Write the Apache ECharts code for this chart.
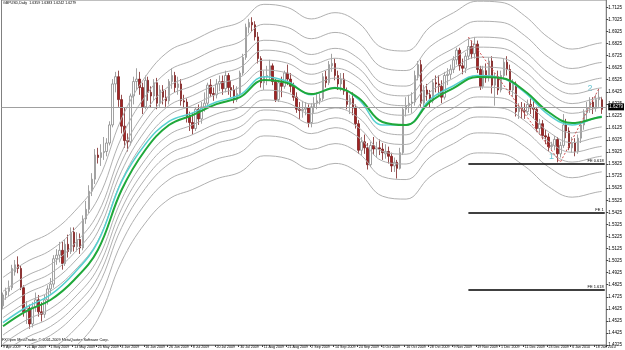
<!DOCTYPE html>
<html>
<head>
<meta charset="utf-8">
<script src="https://cdn.jsdelivr.net/npm/echarts@6/dist/echarts.min.js"></script>
<style>
  html, body { margin: 0; padding: 0; background: #fff; }
  #chart { width: 625px; height: 350px; }
</style>
</head>
<body>
<div id="chart"></div>
<script>
// time labels, one every 8 bars
const tickLabels = ['9 Apr 2009', '21 Apr 2009', '1 May 2009', '13 May 2009', '25 May 2009', '4 Jun 2009',
  '16 Jun 2009', '26 Jun 2009', '8 Jul 2009', '20 Jul 2009', '30 Jul 2009', '11 Aug 2009', '21 Aug 2009',
  '2 Sep 2009', '14 Sep 2009', '24 Sep 2009', '6 Oct 2009', '16 Oct 2009', '28 Oct 2009', '9 Nov 2009',
  '19 Nov 2009', '1 Dec 2009', '11 Dec 2009', '23 Dec 2009', '6 Jan 2010', '18 Jan 2010'];

const priceTicks = [1.4325, 1.4425, 1.4525, 1.4625, 1.4725, 1.4825, 1.4925, 1.5025, 1.5125, 1.5225,
  1.5325, 1.5425, 1.5525, 1.5625, 1.5725, 1.5825, 1.5925, 1.6025, 1.6125, 1.6225, 1.6325, 1.6425,
  1.6525, 1.6625, 1.6725, 1.6825, 1.6925, 1.7025, 1.7125];

// daily bars: [open, close, low, high]
const ohlc = [
  // Apr
  [1.4650, 1.4740, 1.4620, 1.4760], [1.4740, 1.4770, 1.4700, 1.4800], [1.4770, 1.4800, 1.4730, 1.4860],
  [1.4800, 1.4960, 1.4780, 1.4990], [1.4930, 1.4990, 1.4900, 1.5030], [1.4990, 1.4960, 1.4920, 1.5060],
  [1.4960, 1.4800, 1.4780, 1.4980], [1.4800, 1.4600, 1.4560, 1.4820], [1.4600, 1.4630, 1.4500, 1.4690],
  [1.4630, 1.4500, 1.4460, 1.4660], [1.4500, 1.4640, 1.4470, 1.4680], [1.4640, 1.4700, 1.4600, 1.4760],
  [1.4700, 1.4600, 1.4560, 1.4740], [1.4600, 1.4580, 1.4520, 1.4680], [1.4580, 1.4700, 1.4550, 1.4740],
  [1.4700, 1.4790, 1.4660, 1.4820],
  // May
  [1.4790, 1.4830, 1.4750, 1.4880], [1.4830, 1.5040, 1.4800, 1.5070], [1.5040, 1.5070, 1.4990, 1.5120],
  [1.5070, 1.5110, 1.5010, 1.5180], [1.5110, 1.5000, 1.4950, 1.5180], [1.5000, 1.5160, 1.4980, 1.5200],
  [1.5160, 1.5100, 1.5050, 1.5240], [1.5100, 1.5260, 1.5080, 1.5300], [1.5260, 1.5140, 1.5100, 1.5300],
  [1.5140, 1.5200, 1.5100, 1.5260], [1.5200, 1.5130, 1.5080, 1.5250], [1.5130, 1.5370, 1.5110, 1.5400],
  [1.5370, 1.5450, 1.5330, 1.5520], [1.5450, 1.5600, 1.5420, 1.5650], [1.5600, 1.5700, 1.5560, 1.5750],
  [1.5700, 1.5900, 1.5660, 1.5950], [1.5900, 1.5880, 1.5830, 1.5960], [1.5880, 1.5920, 1.5810, 1.5990],
  [1.5920, 1.5930, 1.5860, 1.6050], [1.5930, 1.6000, 1.5890, 1.6040], [1.6000, 1.6150, 1.5980, 1.6180],
  // Jun
  [1.6150, 1.6490, 1.6130, 1.6530], [1.6490, 1.6550, 1.6420, 1.6590], [1.6550, 1.6360, 1.6300, 1.6600],
  [1.6360, 1.6140, 1.6080, 1.6400], [1.6140, 1.6020, 1.5960, 1.6290], [1.6020, 1.6010, 1.5930, 1.6080],
  [1.6010, 1.6390, 1.5980, 1.6410], [1.6390, 1.6510, 1.6320, 1.6550], [1.6510, 1.6530, 1.6440, 1.6620],
  [1.6530, 1.6460, 1.6400, 1.6590], [1.6460, 1.6300, 1.6240, 1.6500], [1.6300, 1.6520, 1.6280, 1.6560],
  [1.6520, 1.6420, 1.6350, 1.6550], [1.6420, 1.6390, 1.6290, 1.6470], [1.6390, 1.6500, 1.6350, 1.6530],
  [1.6500, 1.6330, 1.6280, 1.6540], [1.6330, 1.6440, 1.6300, 1.6480], [1.6440, 1.6380, 1.6320, 1.6480],
  [1.6380, 1.6350, 1.6300, 1.6440], [1.6350, 1.6510, 1.6320, 1.6530], [1.6510, 1.6560, 1.6450, 1.6620],
  [1.6560, 1.6460, 1.6420, 1.6590],
  // Jul
  [1.6460, 1.6490, 1.6400, 1.6550], [1.6490, 1.6350, 1.6310, 1.6530], [1.6350, 1.6340, 1.6290, 1.6400],
  [1.6340, 1.6220, 1.6170, 1.6370], [1.6220, 1.6170, 1.6100, 1.6260], [1.6170, 1.6120, 1.6070, 1.6250],
  [1.6120, 1.6280, 1.6100, 1.6300], [1.6280, 1.6200, 1.6150, 1.6320], [1.6200, 1.6300, 1.6160, 1.6340],
  [1.6300, 1.6330, 1.6260, 1.6420], [1.6330, 1.6480, 1.6300, 1.6500], [1.6480, 1.6410, 1.6380, 1.6530],
  [1.6410, 1.6400, 1.6350, 1.6460], [1.6400, 1.6490, 1.6370, 1.6530], [1.6490, 1.6510, 1.6430, 1.6560],
  [1.6510, 1.6450, 1.6400, 1.6560], [1.6450, 1.6560, 1.6420, 1.6600], [1.6560, 1.6460, 1.6400, 1.6580],
  [1.6460, 1.6440, 1.6380, 1.6520], [1.6440, 1.6360, 1.6330, 1.6480], [1.6360, 1.6410, 1.6340, 1.6470],
  [1.6410, 1.6580, 1.6390, 1.6600], [1.6580, 1.6710, 1.6560, 1.6740],
  // Aug
  [1.6710, 1.6960, 1.6690, 1.6990], [1.6960, 1.7000, 1.6910, 1.7030], [1.7000, 1.6980, 1.6920, 1.7043],
  [1.6980, 1.6880, 1.6850, 1.7010], [1.6880, 1.6700, 1.6660, 1.6920], [1.6700, 1.6500, 1.6460, 1.6720],
  [1.6500, 1.6550, 1.6440, 1.6600], [1.6550, 1.6560, 1.6480, 1.6640], [1.6560, 1.6640, 1.6520, 1.6690],
  [1.6640, 1.6510, 1.6480, 1.6660], [1.6510, 1.6360, 1.6340, 1.6530], [1.6360, 1.6500, 1.6340, 1.6520],
  [1.6500, 1.6470, 1.6380, 1.6550], [1.6470, 1.6580, 1.6450, 1.6600], [1.6580, 1.6530, 1.6480, 1.6650],
  [1.6530, 1.6470, 1.6420, 1.6580], [1.6470, 1.6380, 1.6350, 1.6500], [1.6380, 1.6280, 1.6250, 1.6420],
  [1.6280, 1.6270, 1.6200, 1.6340], [1.6270, 1.6280, 1.6210, 1.6350], [1.6280, 1.6290, 1.6230, 1.6340],
  // Sep
  [1.6290, 1.6170, 1.6130, 1.6320], [1.6170, 1.6300, 1.6130, 1.6330], [1.6300, 1.6330, 1.6250, 1.6380],
  [1.6330, 1.6350, 1.6280, 1.6420], [1.6350, 1.6370, 1.6320, 1.6410], [1.6370, 1.6550, 1.6350, 1.6580],
  [1.6550, 1.6500, 1.6460, 1.6600], [1.6500, 1.6650, 1.6480, 1.6680], [1.6640, 1.6660, 1.6590, 1.6740],
  [1.6660, 1.6560, 1.6520, 1.6700], [1.6560, 1.6490, 1.6440, 1.6600], [1.6490, 1.6530, 1.6430, 1.6580],
  [1.6530, 1.6430, 1.6400, 1.6580], [1.6430, 1.6320, 1.6280, 1.6460], [1.6320, 1.6370, 1.6240, 1.6400],
  [1.6370, 1.6290, 1.6230, 1.6420], [1.6290, 1.6160, 1.6120, 1.6320], [1.6160, 1.5940, 1.5910, 1.6190],
  [1.5940, 1.6010, 1.5900, 1.6050], [1.6010, 1.5960, 1.5910, 1.6070], [1.5960, 1.5820, 1.5780, 1.6000],
  [1.5820, 1.5980, 1.5800, 1.6010],
  // Oct
  [1.5980, 1.5950, 1.5900, 1.6050], [1.5950, 1.5960, 1.5880, 1.6010], [1.5960, 1.5950, 1.5900, 1.6030],
  [1.5950, 1.5920, 1.5860, 1.6000], [1.5910, 1.5930, 1.5870, 1.5990], [1.5930, 1.5890, 1.5830, 1.5970],
  [1.5890, 1.5810, 1.5760, 1.5920], [1.5810, 1.5840, 1.5760, 1.5880], [1.5840, 1.5790, 1.5705, 1.5860],
  [1.5790, 1.5920, 1.5780, 1.5960], [1.5920, 1.6280, 1.5900, 1.6300], [1.6280, 1.6310, 1.6220, 1.6380],
  [1.6310, 1.6330, 1.6250, 1.6400], [1.6330, 1.6340, 1.6250, 1.6420], [1.6340, 1.6560, 1.6310, 1.6600],
  [1.6560, 1.6650, 1.6520, 1.6680], [1.6650, 1.6330, 1.6300, 1.6690], [1.6330, 1.6440, 1.6300, 1.6480],
  [1.6440, 1.6400, 1.6350, 1.6490], [1.6400, 1.6350, 1.6290, 1.6440], [1.6350, 1.6500, 1.6330, 1.6530],
  [1.6500, 1.6490, 1.6420, 1.6560],
  // Nov
  [1.6490, 1.6470, 1.6400, 1.6560], [1.6470, 1.6380, 1.6330, 1.6520], [1.6380, 1.6560, 1.6360, 1.6590],
  [1.6560, 1.6570, 1.6480, 1.6620], [1.6570, 1.6610, 1.6530, 1.6650], [1.6610, 1.6690, 1.6580, 1.6720],
  [1.6690, 1.6770, 1.6650, 1.6790], [1.6770, 1.6640, 1.6600, 1.6790], [1.6640, 1.6620, 1.6570, 1.6700],
  [1.6620, 1.6720, 1.6580, 1.6750], [1.6720, 1.6800, 1.6690, 1.6870], [1.6800, 1.6740, 1.6700, 1.6850],
  [1.6740, 1.6820, 1.6700, 1.6880], [1.6820, 1.6610, 1.6580, 1.6850], [1.6610, 1.6470, 1.6440, 1.6640],
  [1.6470, 1.6600, 1.6450, 1.6640], [1.6600, 1.6540, 1.6500, 1.6660], [1.6540, 1.6680, 1.6510, 1.6710],
  [1.6680, 1.6480, 1.6410, 1.6720], [1.6480, 1.6550, 1.6310, 1.6580], [1.6550, 1.6440, 1.6400, 1.6600],
  // Dec
  [1.6440, 1.6560, 1.6420, 1.6600], [1.6560, 1.6670, 1.6530, 1.6700], [1.6670, 1.6610, 1.6560, 1.6720],
  [1.6610, 1.6440, 1.6400, 1.6650], [1.6440, 1.6490, 1.6380, 1.6530], [1.6490, 1.6260, 1.6220, 1.6510],
  [1.6260, 1.6290, 1.6200, 1.6330], [1.6290, 1.6270, 1.6200, 1.6340], [1.6270, 1.6260, 1.6200, 1.6330],
  [1.6260, 1.6320, 1.6230, 1.6360], [1.6320, 1.6290, 1.6240, 1.6370], [1.6290, 1.6280, 1.6200, 1.6350],
  [1.6280, 1.6120, 1.6090, 1.6300], [1.6120, 1.6160, 1.6070, 1.6200], [1.6160, 1.6060, 1.6030, 1.6190],
  [1.6060, 1.6050, 1.5990, 1.6110], [1.6050, 1.5970, 1.5930, 1.6080], [1.5970, 1.5980, 1.5940, 1.6010],
  [1.5980, 1.6030, 1.5940, 1.6060], [1.6030, 1.5910, 1.5840, 1.6050], [1.5910, 1.5980, 1.5880, 1.6010],
  [1.5980, 1.6150, 1.5960, 1.6240],
  // Jan
  [1.6150, 1.6100, 1.6040, 1.6200], [1.6100, 1.5960, 1.5940, 1.6130], [1.5960, 1.6000, 1.5920, 1.6050],
  [1.6000, 1.5930, 1.5890, 1.6040], [1.5930, 1.6040, 1.5910, 1.6070], [1.6040, 1.6150, 1.6000, 1.6170],
  [1.6150, 1.6250, 1.6110, 1.6280], [1.6250, 1.6290, 1.6190, 1.6340], [1.6290, 1.6340, 1.6250, 1.6380],
  [1.6340, 1.6290, 1.6240, 1.6380], [1.6290, 1.6360, 1.6260, 1.6400], [1.6360, 1.6380, 1.6300, 1.6450],
  [1.6359, 1.6279, 1.6242, 1.6383]
];

// indicator lines, read every 8 bars
const maIdx = [0, 8, 16, 24, 32, 40, 48, 56, 64, 72, 80, 88, 96, 104, 112, 120, 128, 136, 144, 152,
  160, 168, 176, 184, 192, 200, 202];
const maSlow = [1.4480, 1.4607, 1.4698, 1.4864, 1.5113, 1.5610, 1.5942, 1.6149, 1.6232, 1.6323, 1.6381,
  1.6522, 1.6497, 1.6406, 1.6456, 1.6373, 1.6174, 1.6149, 1.6340, 1.6456, 1.6547, 1.6539, 1.6431,
  1.6257, 1.6165, 1.6207, 1.6215];
const maFast = [1.4510, 1.4640, 1.4740, 1.4920, 1.5180, 1.5680, 1.5990, 1.6180, 1.6250, 1.6340, 1.6400,
  1.6550, 1.6510, 1.6400, 1.6460, 1.6360, 1.6150, 1.6150, 1.6360, 1.6475, 1.6560, 1.6540, 1.6420,
  1.6235, 1.6150, 1.6210, 1.6222];

// envelope bands, outermost upper first
const envUp6 = [1.5030, 1.5162, 1.5257, 1.5429, 1.5687, 1.6203, 1.6548, 1.6763, 1.6849, 1.6943, 1.7003,
  1.7150, 1.7124, 1.7029, 1.7081, 1.6995, 1.6789, 1.6763, 1.6961, 1.7081, 1.7176, 1.7167, 1.7055,
  1.6875, 1.6779, 1.6823, 1.6831];
const envUp5 = [1.4885, 1.5016, 1.5110, 1.5280, 1.5536, 1.6047, 1.6388, 1.6601, 1.6686, 1.6780, 1.6840,
  1.6985, 1.6959, 1.6865, 1.6917, 1.6831, 1.6627, 1.6601, 1.6798, 1.6917, 1.7010, 1.7002, 1.6891,
  1.6712, 1.6618, 1.6661, 1.6669];
const envUp4 = [1.4770, 1.4899, 1.4992, 1.5161, 1.5415, 1.5922, 1.6261, 1.6472, 1.6557, 1.6649, 1.6709,
  1.6852, 1.6827, 1.6734, 1.6785, 1.6700, 1.6497, 1.6472, 1.6667, 1.6785, 1.6878, 1.6870, 1.6760,
  1.6582, 1.6488, 1.6531, 1.6539];
const envUp3 = [1.4697, 1.4826, 1.4918, 1.5087, 1.5340, 1.5844, 1.6181, 1.6391, 1.6475, 1.6568, 1.6627,
  1.6770, 1.6744, 1.6652, 1.6703, 1.6619, 1.6417, 1.6391, 1.6585, 1.6703, 1.6795, 1.6787, 1.6677,
  1.6501, 1.6407, 1.6450, 1.6458];
const envUp2 = [1.4625, 1.4753, 1.4845, 1.5013, 1.5264, 1.5766, 1.6101, 1.6310, 1.6394, 1.6486, 1.6545,
  1.6687, 1.6662, 1.6570, 1.6621, 1.6537, 1.6336, 1.6310, 1.6503, 1.6621, 1.6712, 1.6704, 1.6595,
  1.6420, 1.6327, 1.6369, 1.6377];
const envUp1 = [1.4552, 1.4680, 1.4771, 1.4938, 1.5189, 1.5688, 1.6022, 1.6230, 1.6313, 1.6405, 1.6463,
  1.6605, 1.6579, 1.6488, 1.6538, 1.6455, 1.6255, 1.6230, 1.6422, 1.6538, 1.6630, 1.6622, 1.6513,
  1.6338, 1.6246, 1.6288, 1.6296];
const envDn1 = [1.4408, 1.4534, 1.4625, 1.4790, 1.5037, 1.5532, 1.5862, 1.6068, 1.6151, 1.6241, 1.6299,
  1.6439, 1.6415, 1.6324, 1.6374, 1.6291, 1.6093, 1.6068, 1.6258, 1.6374, 1.6464, 1.6456, 1.6349,
  1.6176, 1.6084, 1.6126, 1.6134];
const envDn2 = [1.4335, 1.4461, 1.4551, 1.4715, 1.4962, 1.5454, 1.5783, 1.5988, 1.6070, 1.6160, 1.6217,
  1.6357, 1.6332, 1.6242, 1.6291, 1.6209, 1.6012, 1.5988, 1.6177, 1.6291, 1.6382, 1.6374, 1.6267,
  1.6094, 1.6003, 1.6045, 1.6053];
const envDn3 = [1.4263, 1.4388, 1.4478, 1.4641, 1.4886, 1.5376, 1.5703, 1.5907, 1.5989, 1.6078, 1.6135,
  1.6274, 1.6250, 1.6160, 1.6209, 1.6127, 1.5931, 1.5907, 1.6095, 1.6209, 1.6299, 1.6291, 1.6185,
  1.6013, 1.5923, 1.5964, 1.5972];
const envDn4 = [1.4190, 1.4315, 1.4404, 1.4567, 1.4811, 1.5298, 1.5623, 1.5826, 1.5907, 1.5997, 1.6053,
  1.6192, 1.6167, 1.6078, 1.6127, 1.6046, 1.5851, 1.5826, 1.6013, 1.6127, 1.6216, 1.6208, 1.6102,
  1.5932, 1.5842, 1.5883, 1.5891];
const envDn5 = [1.4075, 1.4198, 1.4286, 1.4448, 1.4690, 1.5173, 1.5496, 1.5697, 1.5778, 1.5866, 1.5922,
  1.6059, 1.6035, 1.5947, 1.5995, 1.5915, 1.5721, 1.5697, 1.5882, 1.5995, 1.6084, 1.6076, 1.5971,
  1.5802, 1.5712, 1.5753, 1.5761];
const envDn6 = [1.3930, 1.4052, 1.4139, 1.4299, 1.4539, 1.5017, 1.5336, 1.5535, 1.5615, 1.5703, 1.5759,
  1.5894, 1.5870, 1.5783, 1.5831, 1.5751, 1.5559, 1.5535, 1.5719, 1.5831, 1.5918, 1.5911, 1.5807,
  1.5639, 1.5551, 1.5591, 1.5599];
const envelopes = [envUp6, envUp5, envUp4, envUp3, envUp2, envUp1, envDn1, envDn2, envDn3, envDn4, envDn5, envDn6];

const lastPrice = 1.6279;
const feLevels = [1.5826, 1.5419, 1.4781];
const feNames = ['FE 0.618', 'FE 1', 'FE 1.618'];
const feStart = 157;
const fePoints = [[157, 1.6879], [188, 1.5840], [201, 1.6450]];
const waveMarks = [[184.7, 1.5884, '1'], [198.2, 1.6448, '2']];

const nCats = 204;
const cats = [];
for (let i = 0; i < nCats; i++) cats.push(i);

const pick = (vals) => maIdx.map((x, k) => [x, vals[k]]);
const smallFont = "'Liberation Sans Narrow', 'Liberation Sans', sans-serif";

const chart = echarts.init(document.getElementById('chart'), null, { renderer: 'canvas' });

const envSeries = envelopes.map((vals) => ({
  type: 'line', data: pick(vals), smooth: 0.4, symbol: 'none', silent: true,
  lineStyle: { color: '#b0b0b0', width: 1 }
}));

const option = {
  animation: false,
  backgroundColor: '#ffffff',
  grid: {
    left: 0, right: 16, top: 0, bottom: 5,
    show: true, borderColor: '#808080', borderWidth: 1
  },
  xAxis: {
    type: 'category',
    data: cats,
    boundaryGap: true,
    axisLine: { show: true, lineStyle: { color: '#808080' } },
    axisTick: { show: true, interval: 7, length: 2, lineStyle: { color: '#404040' } },
    axisLabel: {
      interval: 7, align: 'left', margin: 0, fontSize: 3.6, color: '#000',
      fontFamily: smallFont,
      formatter: (v, i) => tickLabels[i / 8] || ''
    },
    splitLine: { show: false }
  },
  yAxis: {
    type: 'value',
    position: 'right',
    min: 1.4325,
    max: 1.7186,
    axisLine: { show: true, lineStyle: { color: '#808080' } },
    axisTick: { show: true, length: 2, customValues: priceTicks, lineStyle: { color: '#404040' } },
    axisLabel: {
      margin: 2, fontSize: 4.5, color: '#000', fontFamily: smallFont,
      customValues: priceTicks,
      formatter: (v) => v.toFixed(4)
    },
    splitLine: { show: false }
  },
  graphic: [
    { type: 'text', left: 3, top: 1,
      style: { text: 'GBPUSD,Daily  1.6359 1.6383 1.6242 1.6279', fontSize: 3.6, fontFamily: smallFont, fill: '#000' } },
    { type: 'text', left: 2, top: 338,
      style: { text: 'FXOpen MetaTrader, \u00a9 2001-2009 MetaQuotes Software Corp.', fontSize: 3.8, fontFamily: smallFont, fill: '#000' } }
  ],
  series: envSeries.concat([
    {
      type: 'candlestick',
      data: ohlc,
      barWidth: 2,
      itemStyle: {
        color: '#ffffff', color0: '#a52222',
        borderColor: '#8a8a8a', borderColor0: '#7a2020', borderWidth: 0.8
      },
      markLine: {
        silent: true, symbol: 'none', animation: false,
        data: [
          { yAxis: lastPrice,
            lineStyle: { color: '#a0a0a0', width: 1, type: 'solid' },
            label: { show: true, position: 'end', formatter: lastPrice.toFixed(4), backgroundColor: '#000',
              color: '#fff', fontSize: 4.5, fontFamily: smallFont, padding: [1, 1], distance: 2 } }
        ].concat(feLevels.map((lv, k) => [
          { coord: [feStart, lv],
            lineStyle: { color: '#000', width: 1.5, type: 'solid' },
            label: { show: true, position: 'insideEndTop', formatter: feNames[k], fontSize: 4,
              fontFamily: smallFont, color: '#000', distance: 1 } },
          { coord: [nCats - 1, lv] }
        ]))
      }
    },
    {
      type: 'line', data: pick(maFast), smooth: 0.4, symbol: 'none',
      lineStyle: { color: '#55d0d0', width: 1.5 }
    },
    {
      type: 'line', data: pick(maSlow), smooth: 0.4, symbol: 'none',
      lineStyle: { color: '#1fa83a', width: 2 }
    },
    {
      type: 'line', data: fePoints, symbol: 'none',
      lineStyle: { color: '#d05050', width: 1, type: [2, 2] }
    },
    {
      type: 'scatter', data: waveMarks, symbolSize: 0,
      label: { show: true, position: 'inside', formatter: (p) => p.data[2], color: '#40b4c4', fontSize: 9,
        fontFamily: 'Liberation Sans, sans-serif' }
    }
  ])
};

chart.setOption(option);
</script>
</body>
</html>
